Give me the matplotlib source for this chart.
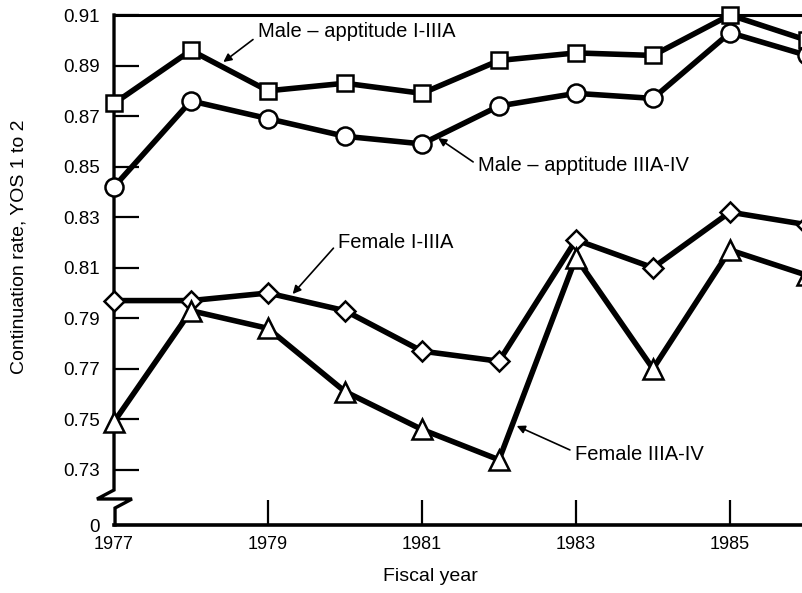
import numpy as np
import matplotlib
matplotlib.use("Agg")
import matplotlib.pyplot as plt

plt.rcParams['font.family'] = ['Liberation Sans', 'DejaVu Sans']

# fiscal years and continuation rates
years = [1977, 1978, 1979, 1980, 1981, 1982, 1983, 1984, 1985, 1986]
male_hi = [0.875, 0.896, 0.880, 0.883, 0.879, 0.892, 0.895, 0.894, 0.910, 0.900]
male_lo = [0.842, 0.876, 0.869, 0.862, 0.859, 0.874, 0.879, 0.877, 0.903, 0.894]
female_hi = [0.797, 0.797, 0.800, 0.793, 0.777, 0.773, 0.821, 0.810, 0.832, 0.827]
female_lo = [0.749, 0.793, 0.786, 0.761, 0.746, 0.734, 0.814, 0.770, 0.817, 0.807]

# y axis is broken: "0" sits just below 0.73
y_zero_pos = 0.7082
ytick_vals = [y_zero_pos, 0.73, 0.75, 0.77, 0.79, 0.81, 0.83, 0.85, 0.87, 0.89, 0.91]
ytick_labels = ['0', '0.73', '0.75', '0.77', '0.79', '0.81', '0.83', '0.85', '0.87', '0.89', '0.91']
xtick_vals = [1977, 1979, 1981, 1983, 1985]

fig = plt.figure(figsize=(8.03, 5.93), dpi=100)
ax = fig.add_axes([0.14197, 0.11467, 0.85803, 0.86003])

ax.set_xlim(1977, 1977 + 689 / 77)
ax.set_ylim(y_zero_pos, 0.91)

style = dict(color='black', lw=4, mfc='white', mec='black', mew=1.8, clip_on=False, zorder=3)
ax.plot(years, male_hi, marker='s', ms=12, **style)
ax.plot(years, male_lo, marker='o', ms=13, **style)
ax.plot(years, female_hi, marker='D', ms=10.5, **style)
ax.plot(years, female_lo, marker='^', ms=14, **style)

# spines
ax.spines['right'].set_visible(False)
ax.spines['left'].set_visible(False)
ax.spines['top'].set_linewidth(2.2)
ax.spines['bottom'].set_linewidth(2.6)

# left spine with the zigzag break
bx = [0, 0, -0.0247, 0.0261, 0.0015, 0.0015]
by = [1, 0.0686, 0.051, 0.051, 0.0333, 0]
ax.plot(bx, by, color='black', lw=2.4, transform=ax.transAxes, clip_on=False,
        solid_joinstyle='miter')

ax.set_yticks(ytick_vals)
ax.set_yticklabels(ytick_labels)
ax.set_xticks(xtick_vals)
ax.set_xticklabels([str(y) for y in xtick_vals])
ax.tick_params(axis='y', direction='in', length=18, width=1.6, pad=10, labelsize=13.5)
ax.tick_params(axis='x', direction='in', length=18, width=1.6, pad=8, labelsize=13)
ax.xaxis.get_major_ticks()[0].tick1line.set_visible(False)
ax.yaxis.get_major_ticks()[0].tick1line.set_visible(False)

ax.set_xlabel('Fiscal year', fontsize=14)
ax.xaxis.set_label_coords(0.4586, -0.085)
ax.set_ylabel('Continuation rate, YOS 1 to 2', fontsize=14)
ax.yaxis.set_label_coords(-0.125, 0.545)

fs = 14.5
arrow = dict(arrowstyle='-|>', color='black', lw=1.2, mutation_scale=12, shrinkA=2, shrinkB=0)
ax.annotate('Male \u2013 apptitude I-IIIA', xy=(1978.42, 0.8914), xytext=(1978.87, 0.9033),
            fontsize=fs, va='center', ha='left',
            arrowprops=dict(relpos=(0, 0.3), **arrow))
ax.annotate('Male \u2013 apptitude IIIA-IV', xy=(1981.21, 0.8613), xytext=(1981.73, 0.8505),
            fontsize=fs, va='center', ha='left',
            arrowprops=dict(relpos=(0, 0.5), **arrow))
ax.annotate('Female I-IIIA', xy=(1979.32, 0.7996), xytext=(1979.91, 0.8198),
            fontsize=fs, va='center', ha='left',
            arrowprops=dict(relpos=(0, 0.5), **arrow))
ax.annotate('Female IIIA-IV', xy=(1982.23, 0.7474), xytext=(1982.99, 0.7362),
            fontsize=fs, va='center', ha='left',
            arrowprops=dict(relpos=(0, 0.6), **arrow))

fig.savefig('out.png', dpi=100)
